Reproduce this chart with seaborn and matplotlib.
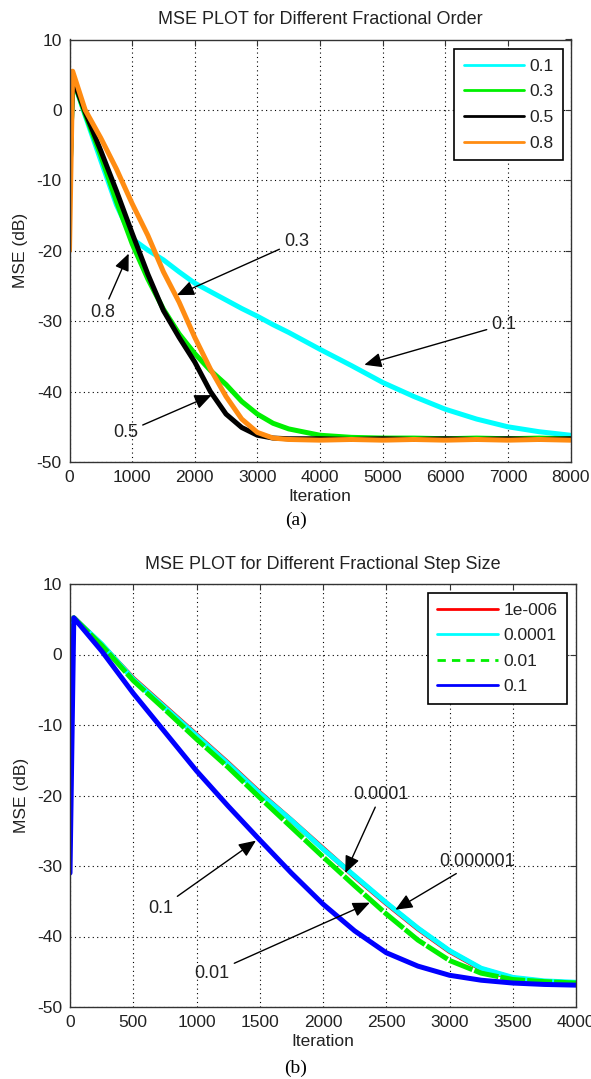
import matplotlib
matplotlib.use("Agg")
import matplotlib.pyplot as plt
from matplotlib.patches import ArrowStyle
import seaborn as sns

# ---- (a) MSE for different fractional orders ----
iter_a = [0, 50, 250, 500, 750, 1000, 1250, 1500, 1750, 2000, 2250, 2500, 2750,
          3000, 3250, 3500, 4000, 4500, 5000, 5500, 6000, 6500, 7000, 7500, 8000]
mse_order_01 = [-12, 4.5, -0.8, -7.2, -13.5, -18.3, -19.9, -21.3, -23.0, -24.6, -25.8, -27.0, -28.2,
                -29.3, -30.5, -31.6, -34.0, -36.3, -38.7, -40.7, -42.5, -43.9, -45.0, -45.7, -46.2]
mse_order_03 = [-12, 4.5, -0.6, -6.5, -13.0, -19.0, -24.0, -28.3, -31.8, -34.6, -37.0, -39.0, -41.4,
                -43.2, -44.5, -45.3, -46.2, -46.5, -46.6, -46.6, -46.7, -46.6, -46.7, -46.6, -46.7]
mse_order_05 = [-12, 4.5, -0.3, -5.8, -11.5, -17.5, -23.3, -28.5, -32.3, -35.8, -40.0, -43.2, -45.1,
                -46.2, -46.6, -46.7, -46.7, -46.8, -46.7, -46.8, -46.7, -46.8, -46.7, -46.8, -46.7]
mse_order_08 = [-20, 5.5, 0.0, -4.0, -8.4, -13.3, -17.8, -23.0, -27.3, -32.3, -36.8, -40.7, -43.9,
                -45.8, -46.6, -46.8, -46.9, -46.8, -46.9, -46.8, -46.9, -46.8, -46.9, -46.8, -46.9]
labels_a = ["0.1", "0.3", "0.5", "0.8"]
colors_a = ["#00FFFF", "#00F000", "#000000", "#FF8C12"]

# ---- (b) MSE for different fractional step sizes ----
iter_b = [0, 30, 250, 500, 750, 1000, 1250, 1500, 1750, 2000, 2250, 2500, 2750,
          3000, 3250, 3500, 3750, 4000]
mse_step_1e6 = [-3, 5.2, 1.4, -3.4, -7.4, -11.4, -15.4, -19.6, -23.5, -27.5, -31.5, -35.3, -38.9,
                -42.1, -44.6, -45.9, -46.4, -46.6]
mse_step_1e4 = [-3, 5.2, 1.5, -3.5, -7.5, -11.5, -15.5, -19.7, -23.5, -27.6, -31.4, -35.2, -38.8,
                -42.0, -44.5, -45.8, -46.3, -46.5]
mse_step_1e2 = [-3, 5.2, 1.3, -3.7, -7.8, -12.0, -16.0, -20.3, -24.5, -28.7, -32.8, -36.8, -40.5,
                -43.4, -45.2, -46.1, -46.4, -46.6]
mse_step_1e1 = [-31, 5.2, 0.5, -5.5, -11.0, -16.5, -21.5, -26.3, -31.0, -35.4, -39.2, -42.3, -44.2,
                -45.5, -46.2, -46.6, -46.8, -46.9]
labels_b = ["1e-006", "0.0001", "0.01", "0.1"]
colors_b = ["#FF0000", "#00FFFF", "#00F000", "#0000FF"]

# callouts: (text, text position, arrow tip)
notes_a = [("0.3", (3624, -18.7), (1716, -26.3)),
           ("0.8", (536, -28.7), (945, -20.4)),
           ("0.1", (6935, -30.5), (4708, -36.2)),
           ("0.5", (897, -45.8), (2270, -40.5))]
notes_b = [("0.0001", (2460, -19.8), (2176, -31.0)),
           ("0.000001", (3220, -29.3), (2572, -36.2)),
           ("0.1", (715, -36.0), (1470, -26.4)),
           ("0.01", (1124, -45.2), (2370, -35.2))]

sns.set_style("white")
plt.rcParams["font.family"] = ["Liberation Sans", "DejaVu Sans"]
plt.rcParams["axes.unicode_minus"] = False
TXT = "#222222"

fig = plt.figure(figsize=(5.91, 10.79), dpi=100)
ax_a = fig.add_axes([69.5 / 591, 1 - 462 / 1079, 501 / 591, 422.5 / 1079])
ax_b = fig.add_axes([70 / 591, 1 - 1007 / 1079, 506 / 591, 423 / 1079])

arrow = ArrowStyle("-|>", head_length=0.65, head_width=0.28)


def panel(ax, x, series, labels, colors, styles, title, xmax, xstep, notes, leg_anchor):
    for y, lab, col, ls in zip(series, labels, colors, styles):
        sns.lineplot(x=x, y=y, ax=ax, color=col, linewidth=3.6, label=lab,
                     estimator=None, sort=False, linestyle=ls)
    ax.set_xlim(0, xmax)
    ax.set_ylim(-50, 10)
    ax.set_xticks(range(0, xmax + 1, xstep))
    ax.set_yticks(range(-50, 11, 10))
    ax.grid(True, color="black", linestyle=(0, (1, 3)), linewidth=0.8)
    ax.set_axisbelow(True)
    for s in ax.spines.values():
        s.set_color("#333333")
        s.set_linewidth(1.0)
    ax.tick_params(direction="in", length=4, width=0.8, top=True, right=True,
                   labelsize=12.5, labelcolor=TXT, color="#333333", pad=5.5)
    ax.set_xlabel("Iteration", fontsize=12.5, color=TXT, labelpad=3)
    ax.set_ylabel("MSE (dB)", fontsize=12.5, color=TXT, labelpad=6)
    ax.set_title(title, fontsize=13, color=TXT, pad=11)
    leg = ax.legend(loc="upper right", bbox_to_anchor=leg_anchor, borderaxespad=0,
                    fontsize=12.5, frameon=True, fancybox=False, framealpha=1,
                    edgecolor="black", handlelength=3.5, handletextpad=0.3,
                    labelspacing=0.6, borderpad=0.55, labelcolor=TXT)
    leg.get_frame().set_linewidth(1.2)
    for ln, ls in zip(leg.get_lines(), styles):
        ln.set_linewidth(2.0)
        if ls != "-":
            ln.set_linestyle((0, (3, 2.2)))
    for text, xy_text, xy_tip in notes:
        ax.annotate(text, xy=xy_tip, xytext=xy_text, fontsize=13, color=TXT,
                    ha="center", va="center",
                    arrowprops=dict(arrowstyle=arrow, color="black", lw=1.0,
                                    mutation_scale=16, shrinkA=1, shrinkB=0))


panel(ax_a, iter_a, [mse_order_01, mse_order_03, mse_order_05, mse_order_08],
      labels_a, colors_a, ["-", "-", "-", "-"],
      "MSE PLOT for Different Fractional Order", 8000, 1000, notes_a, (0.986, 0.977))
panel(ax_b, iter_b, [mse_step_1e6, mse_step_1e4, mse_step_1e2, mse_step_1e1],
      labels_b, colors_b, ["-", "-", (0, (5, 0.4)), "-"],
      "MSE PLOT for Different Fractional Step Size", 4000, 500, notes_b, (0.982, 0.979))

fig.text(0.5, 1 - 520 / 1079, "(a)", ha="center", va="center", fontsize=14,
         family=["Liberation Serif", "DejaVu Serif"], color="black")
fig.text(0.5, 1 - 1068 / 1079, "(b)", ha="center", va="center", fontsize=14,
         family=["Liberation Serif", "DejaVu Serif"], color="black")

fig.savefig("out.png", dpi=100)
